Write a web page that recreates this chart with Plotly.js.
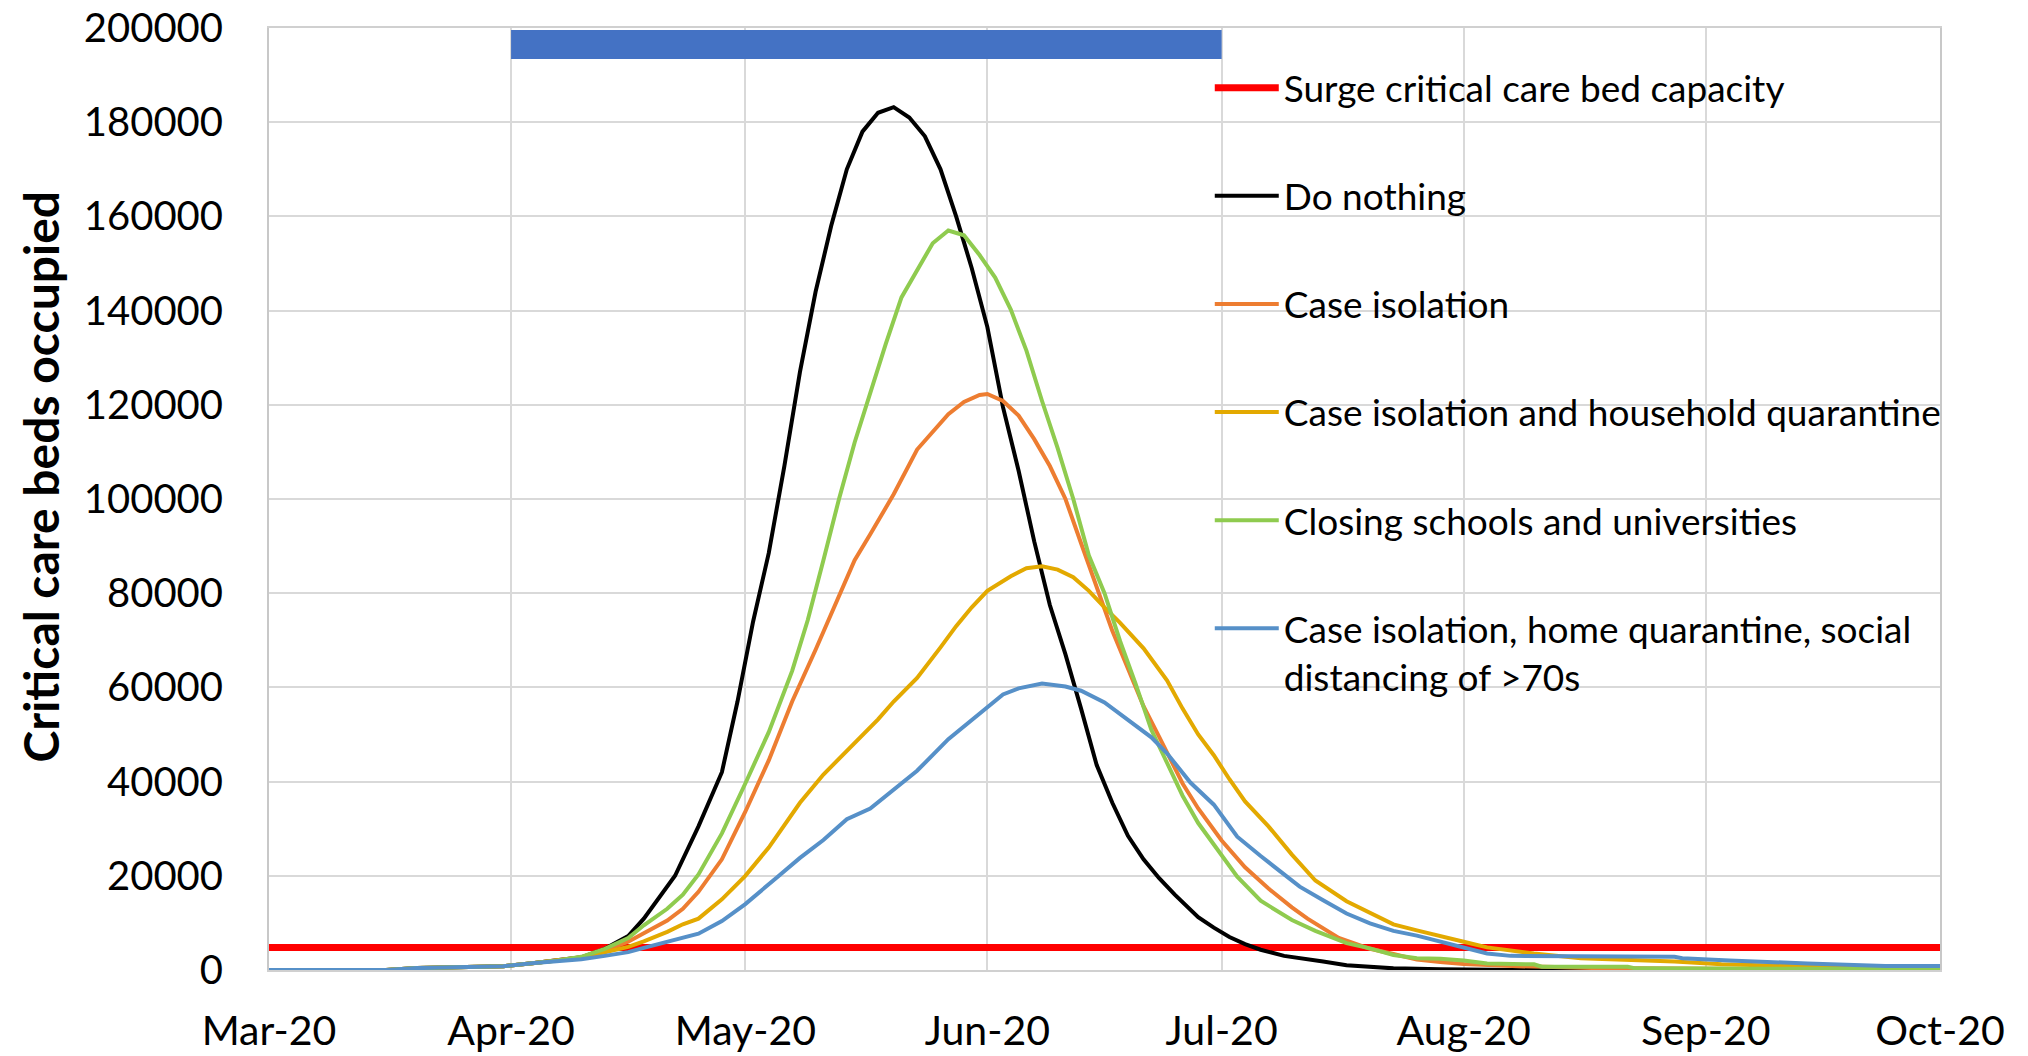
<!DOCTYPE html>
<html>
<head>
<meta charset="utf-8">
<script src="https://cdn.plot.ly/plotly-3.0.1.min.js"></script>
<style>
html,body{margin:0;padding:0;background:#ffffff;}
#chart{width:2028px;height:1056px;}
</style>
</head>
<body>
<div id="chart"></div>
<script>
// ---- data (day offsets from 2020-03-01, critical care beds occupied) ----
const seriesNames = [
  "Surge critical care bed capacity",
  "Do nothing",
  "Case isolation",
  "Case isolation and household quarantine",
  "Closing schools and universities",
  "Case isolation, home quarantine, social<br>distancing of >70s"
];
const yAxisTitle = "Critical care beds occupied";

const surgeCapacity = 4800;
const surgeDates = ["2020-03-01", "2020-10-01"];

const interventionStart = "2020-04-01";
const interventionEnd = "2020-07-01";
const interventionBandLow = 193400;
const interventionBandHigh = 199600;

const doNothingDays = [0,15,19,30,34,37,40,43,46,48,50,52,55,58,60,62,64,66,68,70,72,74,76,78,80,82,84,86,88,90,92,94,96,98,100,102,104,106,108,110,112,114,116,119,121,123,125,127,130,132,135,138,144,150,160,214];
const doNothingBeds = [0,0,400,800,1500,2000,2700,4500,7200,10900,15500,20000,30500,42000,57000,74000,88500,107000,127000,144000,158000,170000,178000,182000,183200,181000,177000,170000,160000,149000,136500,119500,106000,91000,77500,67000,55500,43500,35500,28500,23500,19500,16000,11200,9000,7000,5500,4300,3000,2600,1800,1000,350,150,0,0];

const caseIsolationDays = [0,15,19,30,34,37,40,43,46,48,51,53,55,58,61,64,67,70,72,75,77,80,83,85,87,89,91,92,94,96,98,100,102,104,106,108,110,112,114,117,119,122,125,128,131,133,137,141,144,147,150,153,160,170,190,214];
const caseIsolationBeds = [0,0,400,800,1500,2000,2700,4150,6000,7800,10500,13000,16600,23500,33600,44500,57000,68000,75500,87000,92500,101000,110500,114300,118000,120600,122100,122300,120800,117700,112700,107000,100000,90600,81500,72000,64000,56000,49500,39600,34300,27500,21800,17300,13300,10900,6800,4500,3400,2200,1700,1300,800,400,200,0];

const householdQuarantineDays = [0,15,19,30,34,37,40,43,46,48,51,53,55,58,61,64,68,71,75,78,80,83,86,88,90,92,95,97,99,101,103,105,107,109,112,115,117,119,121,123,125,128,131,134,138,141,144,147,150,153,156,159,162,168,180,186,197,206,214];
const householdQuarantineBeds = [0,0,400,800,1500,2000,2600,3770,4900,6100,8100,9700,10900,15000,20000,26000,35500,41500,48300,53200,57000,62000,68500,73000,77000,80500,83600,85300,85700,85000,83400,80500,77000,73700,68300,61500,55500,50000,45600,40500,35800,30500,24500,19000,14600,12200,9700,8400,7100,6000,4800,4100,3500,2500,1800,1200,700,350,100];

const closingSchoolsDays = [0,15,19,30,34,37,40,43,46,48,51,53,55,58,61,64,67,69,71,73,75,77,79,81,83,85,87,89,91,93,95,97,99,101,103,105,107,109,111,113,115,117,119,122,124,127,131,134,138,141,144,147,150,153,156,162,163,174,175,200,214];
const closingSchoolsBeds = [0,0,400,800,1500,2000,2800,4500,6800,9500,13000,16000,20300,29000,39600,50500,63500,74300,87000,100000,112000,122800,133000,142800,148500,154300,157000,156000,151800,147000,140200,131500,120800,110800,100000,88000,80000,69800,60700,51000,44000,37000,31200,24500,19800,14700,10600,8300,5700,4600,3200,2500,2400,2000,1400,1200,700,700,350,250,100];

const distancingDays = [0,15,19,30,34,37,40,43,46,48,51,53,55,58,61,65,68,71,74,77,80,83,87,91,94,96,99,102,104,107,110,113,115,118,121,124,127,132,135,138,141,144,147,150,153,156,159,168,180,181,187,197,207,214];
const distancingBeds = [0,0,400,800,1500,1900,2300,3000,3800,4700,5900,6700,7700,10400,14000,19600,23800,27600,32000,34300,38200,42300,49000,54400,58500,59800,60800,60200,59300,56800,53200,49400,46000,39800,35100,28300,24200,17700,14800,12000,9900,8300,7300,6000,4600,3500,3000,3000,2800,2500,2000,1400,850,850];

const seriesColors = ["#FF0000","#000000","#ED7D31","#E3A900","#8FCB4F","#5690C8"];
const interventionColor = "#4472C4";

const yTickValues = [0,20000,40000,60000,80000,100000,120000,140000,160000,180000,200000];

// ---- helpers ----
function toDate(d){
  const t = new Date(Date.UTC(2020, 2, 1 + d));
  return t.toISOString().slice(0,10);
}
const FONT = "Lato, 'Open Sans', 'Liberation Sans', sans-serif";

function curve(idx, days, beds){
  return {
    type: "scatter", mode: "lines",
    x: days.map(toDate), y: beds,
    name: seriesNames[idx],
    legendgroup: "g" + idx,
    line: {color: seriesColors[idx], width: 4},
    hoverinfo: "x+y+name"
  };
}

const traces = [
  {
    type: "scatter", mode: "none",
    x: [interventionStart, interventionEnd, interventionEnd, interventionStart, interventionStart],
    y: [interventionBandLow, interventionBandLow, interventionBandHigh, interventionBandHigh, interventionBandLow],
    fill: "toself", fillcolor: interventionColor,
    showlegend: false, hoverinfo: "skip"
  },
  {
    type: "scatter", mode: "lines",
    x: surgeDates, y: surgeDates.map(() => surgeCapacity),
    name: seriesNames[0], legendgroup: "g0",
    line: {color: seriesColors[0], width: 7},
    cliponaxis: false
  },
  curve(1, doNothingDays, doNothingBeds),
  curve(2, caseIsolationDays, caseIsolationBeds),
  curve(3, householdQuarantineDays, householdQuarantineBeds),
  curve(4, closingSchoolsDays, closingSchoolsBeds),
  curve(5, distancingDays, distancingBeds)
];

const layout = {
  width: 2028, height: 1056,
  paper_bgcolor: "#ffffff", plot_bgcolor: "#ffffff",
  margin: {l: 269, r: 88, t: 28, b: 86},
  font: {family: FONT, color: "#000000"},
  showlegend: true,
  legend: {
    x: 0.563, xanchor: "left",
    y: 0.969, yanchor: "top",
    bgcolor: "rgba(0,0,0,0)",
    borderwidth: 0,
    font: {family: FONT, size: 37, color: "#000000"},
    traceorder: "grouped",
    tracegroupgap: 57,
    itemwidth: 64,
    valign: "top"
  },
  xaxis: {
    type: "date",
    range: ["2020-03-01", "2020-10-01"],
    tick0: "2020-03-01", dtick: "M1",
    tickformat: "%b-%y",
    showgrid: true, gridcolor: "#d9d9d9", gridwidth: 2,
    showline: true, linecolor: "#d0d0d0", linewidth: 2, mirror: true,
    zeroline: false,
    ticks: "",
    ticklabelstandoff: 24,
    tickfont: {family: FONT, size: 41, color: "#000000"}
  },
  yaxis: {
    range: [0, 200000],
    tickvals: yTickValues,
    tickformat: "d",
    showgrid: true, gridcolor: "#d9d9d9", gridwidth: 2,
    showline: true, linecolor: "#c8c8c8", linewidth: 2, mirror: true,
    zeroline: false,
    ticks: "",
    ticklabelstandoff: 36,
    tickfont: {family: FONT, size: 40, color: "#000000"}
  },
  annotations: [{
    text: "<b>" + yAxisTitle + "</b>",
    xref: "paper", yref: "paper",
    x: -0.137, y: 0.523,
    xanchor: "center", yanchor: "middle",
    textangle: -90, showarrow: false,
    font: {family: FONT, size: 48, color: "#000000"}
  }]
};

Plotly.newPlot("chart", traces, layout, {displayModeBar: false, responsive: false, staticPlot: true});
</script>
</body>
</html>
